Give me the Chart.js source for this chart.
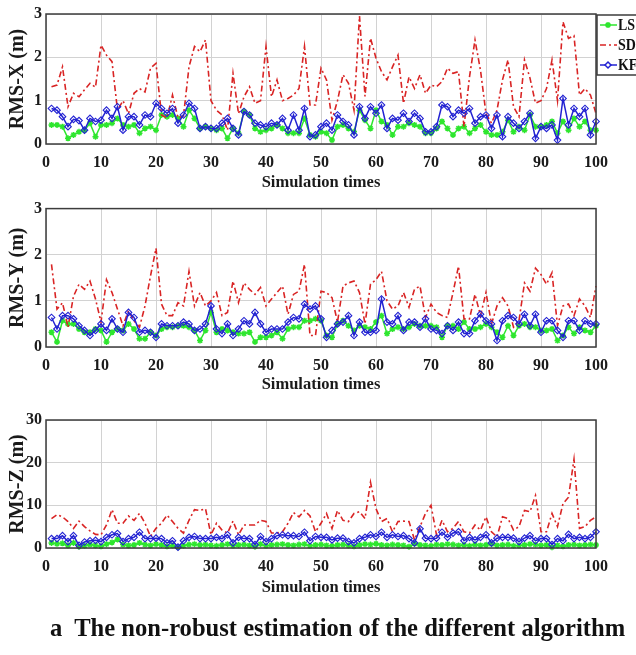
<!DOCTYPE html>
<html>
<head>
<meta charset="utf-8">
<script src="https://cdn.jsdelivr.net/npm/chart.js@4.4.0/dist/chart.umd.min.js"></script>
<style>
  body { margin: 0; background: #fff; width: 636px; height: 655px; position: relative; overflow: hidden; }
  .panel { position: absolute; left: 0; width: 636px; height: 200px; }
  #caption { position: absolute; left: 50px; top: 614px; font: bold 24.6px "Liberation Serif", "DejaVu Serif", serif; color: #111; white-space: pre; }
</style>
</head>
<body>
<div class="panel" style="top:0px"><canvas id="chartX" width="636" height="200"></canvas></div>
<div class="panel" style="top:195px"><canvas id="chartY" width="636" height="200"></canvas></div>
<div class="panel" style="top:405px"><canvas id="chartZ" width="636" height="200"></canvas></div>
<div id="caption">a  The non-robust estimation of the different algorithm</div>
<script>
// RMS error of each run (m), runs 1..100
const xLS = [0.44,0.44,0.40,0.13,0.21,0.28,0.32,0.48,0.17,0.44,
  0.44,0.48,0.59,0.44,0.40,0.44,0.25,0.36,0.40,0.32,
  0.67,0.63,0.67,0.59,0.40,0.78,0.59,0.36,0.40,0.36,
  0.32,0.36,0.13,0.36,0.25,0.75,0.67,0.36,0.28,0.32,
  0.36,0.44,0.36,0.25,0.25,0.25,0.59,0.21,0.17,0.28,
  0.25,0.09,0.40,0.44,0.36,0.28,0.78,0.55,0.36,0.78,
  0.52,0.44,0.21,0.40,0.40,0.48,0.44,0.40,0.25,0.25,
  0.36,0.52,0.36,0.21,0.36,0.40,0.25,0.36,0.44,0.28,
  0.21,0.21,0.28,0.55,0.28,0.40,0.32,0.67,0.40,0.40,
  0.44,0.52,0.25,0.52,0.32,0.59,0.40,0.52,0.32,0.32];
const xSD = [1.32,1.36,1.78,0.86,1.17,1.09,1.25,1.40,1.31,2.28,
  2.05,1.90,0.78,1.00,0.70,1.17,1.28,1.20,1.75,1.86,
  0.67,0.60,1.13,0.60,0.65,1.78,2.25,2.13,2.40,1.00,
  0.78,0.67,0.32,1.63,0.70,1.09,1.32,0.94,1.00,2.25,
  1.09,1.48,1.00,1.05,1.13,1.28,2.25,0.90,0.90,1.75,
  1.48,0.55,1.00,1.60,1.40,0.78,2.95,1.10,2.44,1.98,
  1.67,1.48,1.78,2.05,0.94,1.55,1.28,1.60,1.17,1.36,
  1.32,1.44,1.75,1.63,1.67,0.40,1.55,2.40,1.70,0.70,
  0.48,0.78,1.48,1.94,0.86,0.63,1.94,1.52,0.94,1.00,
  1.28,1.94,1.00,2.82,2.44,2.50,1.13,1.28,1.13,0.70];
const xKF = [0.82,0.78,0.63,0.40,0.57,0.54,0.32,0.59,0.52,0.55,
  0.78,0.59,0.86,0.32,0.63,0.63,0.44,0.67,0.63,0.94,
  0.82,0.71,0.82,0.48,0.67,0.94,0.82,0.36,0.40,0.36,
  0.36,0.48,0.59,0.36,0.21,0.75,0.67,0.48,0.44,0.40,
  0.48,0.44,0.59,0.32,0.67,0.32,0.82,0.17,0.21,0.40,
  0.48,0.32,0.67,0.52,0.44,0.21,0.86,0.59,0.86,0.71,
  0.90,0.36,0.59,0.55,0.71,0.52,0.71,0.59,0.28,0.28,
  0.40,0.90,0.86,0.63,0.78,0.71,0.82,0.48,0.63,0.67,
  0.36,0.67,0.17,0.63,0.48,0.36,0.52,0.71,0.13,0.40,
  0.36,0.44,0.09,1.05,0.44,0.82,0.63,0.82,0.21,0.52];

const yLS = [0.32,0.11,0.57,0.50,0.50,0.39,0.32,0.32,0.39,0.36,
  0.11,0.32,0.39,0.36,0.50,0.39,0.18,0.18,0.32,0.25,
  0.39,0.43,0.43,0.46,0.46,0.43,0.36,0.14,0.36,0.75,
  0.32,0.39,0.36,0.32,0.29,0.29,0.32,0.11,0.21,0.21,
  0.25,0.32,0.18,0.39,0.43,0.43,0.57,0.57,0.61,0.57,
  0.25,0.21,0.50,0.57,0.46,0.36,0.46,0.43,0.39,0.54,
  0.68,0.29,0.39,0.43,0.39,0.43,0.50,0.46,0.46,0.46,
  0.43,0.21,0.46,0.46,0.39,0.54,0.39,0.39,0.43,0.50,
  0.43,0.32,0.21,0.46,0.25,0.46,0.50,0.43,0.43,0.36,
  0.36,0.39,0.14,0.25,0.43,0.29,0.43,0.36,0.32,0.46];
const ySD = [1.79,0.82,0.96,0.43,1.10,1.36,1.25,1.43,1.04,0.54,
  1.46,1.18,0.82,0.46,0.79,0.57,0.43,0.89,1.54,2.14,
  0.93,0.68,0.68,0.96,0.89,1.64,0.89,1.18,0.89,1.00,
  1.18,0.68,0.75,1.43,0.96,1.39,1.25,1.14,1.29,0.89,
  1.04,1.18,1.32,0.71,1.14,1.21,1.79,0.25,0.25,1.21,
  1.18,1.07,0.54,1.32,1.39,1.43,1.18,0.50,1.36,1.46,
  1.64,1.00,0.82,0.89,1.18,0.86,1.25,1.32,0.64,0.93,
  0.75,0.68,0.64,1.18,1.75,0.61,0.61,1.14,0.68,1.18,
  0.50,0.89,1.07,0.89,0.43,0.57,1.39,1.21,1.71,1.57,
  1.36,1.61,0.46,0.89,0.93,0.68,1.04,0.89,0.64,1.32];
const yKF = [0.64,0.39,0.68,0.68,0.61,0.46,0.36,0.25,0.36,0.50,
  0.36,0.61,0.39,0.32,0.75,0.64,0.32,0.36,0.32,0.21,
  0.50,0.46,0.46,0.46,0.54,0.50,0.36,0.39,0.50,0.89,
  0.39,0.29,0.50,0.25,0.39,0.57,0.50,0.75,0.50,0.32,
  0.39,0.39,0.39,0.54,0.64,0.61,0.93,0.82,0.89,0.61,
  0.21,0.36,0.50,0.54,0.68,0.25,0.54,0.32,0.32,0.36,
  1.04,0.54,0.50,0.68,0.36,0.54,0.54,0.43,0.61,0.39,
  0.36,0.29,0.46,0.36,0.54,0.29,0.29,0.57,0.71,0.57,
  0.50,0.14,0.57,0.68,0.64,0.50,0.71,0.46,0.71,0.32,
  0.57,0.57,0.36,0.21,0.57,0.57,0.36,0.57,0.50,0.50];

const zLS = [1.2,1.0,1.1,0.6,1.2,0.3,0.5,0.8,0.6,0.4,
  0.9,1.3,2.0,0.8,0.6,0.7,1.2,0.8,0.6,0.9,
  0.7,0.4,0.6,0.2,0.5,0.8,0.9,0.7,0.8,0.6,
  0.5,0.7,0.9,0.5,0.7,0.8,0.6,0.3,0.9,0.5,
  0.7,0.8,0.9,0.7,0.6,0.8,0.9,0.5,0.7,0.8,
  0.6,0.5,0.7,0.8,0.6,0.4,0.7,0.9,0.8,1.0,
  0.7,0.6,0.8,0.7,0.6,0.3,1.0,0.7,0.6,0.5,
  0.8,0.7,0.9,0.8,0.6,0.7,0.5,0.8,0.6,0.7,
  0.9,0.6,0.7,0.8,0.5,0.6,0.7,0.9,0.8,0.6,
  0.7,0.2,0.6,0.4,0.7,0.8,0.6,0.7,0.8,0.7];
const zSD = [6.9,7.8,7.3,6.2,4.6,6.3,5.0,4.0,3.2,3.1,
  5.4,9.0,5.8,5.8,7.5,6.5,8.1,5.8,2.7,4.6,
  5.8,7.7,6.2,4.6,3.5,6.5,9.0,8.8,9.2,3.1,
  5.8,4.2,3.5,6.3,3.1,5.4,5.4,5.4,6.5,6.2,
  3.5,3.5,3.8,5.8,8.3,7.3,8.8,7.5,3.8,5.8,
  8.1,4.6,8.8,6.5,6.2,8.1,8.5,6.9,15.4,9.2,
  6.2,6.9,3.8,6.2,6.3,6.2,1.9,5.0,8.1,10.0,
  3.1,6.5,3.8,4.6,6.2,3.8,3.5,5.4,4.2,7.3,
  3.8,2.6,7.3,6.9,4.2,5.0,8.8,8.5,12.3,3.8,
  3.8,8.1,5.0,10.4,11.9,20.8,4.6,5.0,6.5,7.3];
const zKF = [2.2,2.2,2.9,1.5,2.9,0.6,1.4,1.7,1.8,1.5,
  2.5,3.1,3.4,1.5,2.2,2.5,3.7,2.2,2.2,2.3,
  2.2,1.2,1.7,0.2,1.7,2.5,2.7,2.2,2.2,2.2,
  2.5,2.2,3.1,1.2,2.5,2.2,2.2,0.8,2.7,1.5,
  2.2,2.9,3.1,2.9,2.9,2.7,3.7,1.7,2.7,2.5,
  2.5,1.9,2.3,2.3,1.5,1.2,2.2,2.5,3.1,2.7,
  3.7,2.5,3.1,2.7,2.9,2.2,1.2,4.5,2.3,2.2,
  2.3,3.7,2.5,3.5,3.8,1.7,2.5,1.9,2.5,3.1,
  1.2,2.3,2.5,2.5,2.3,1.5,2.3,2.9,1.7,2.2,
  2.2,0.8,2.2,1.7,3.2,2.2,2.5,2.2,2.5,3.8];

const seriesNames = ['LS', 'SD', 'KF'];
const xTicks = [0, 10, 20, 30, 40, 50, 60, 70, 80, 90, 100];

const FONT = '"Liberation Serif", "DejaVu Serif", serif';
const GREEN = '#2ee62e';
const RED = '#d92424';
const BLUE = '#2222d2';
const SD_DASH = [6, 3, 2, 3];

function toPoints(vals) {
    return vals.map((v, i) => ({ x: i + 1, y: v }));
}

// box round the plot area + MATLAB style legend
const framePlugin = {
    id: 'frame',
    afterDraw(chart, args, opts) {
        const ctx = chart.ctx;
        const a = chart.chartArea;
        ctx.save();
        ctx.strokeStyle = '#3c3c3c';
        ctx.lineWidth = 1.5;
        ctx.strokeRect(a.left, a.top, a.right - a.left, a.bottom - a.top);

        if (opts.legend) {
            ctx.fillStyle = '#fff';
            ctx.fillRect(597, 15, 50, 60);
            ctx.strokeRect(597, 15, 50, 60);
            const colors = [GREEN, RED, BLUE];
            const styles = ['star', false, 'rectRot'];
            seriesNames.forEach((name, i) => {
                const y = 25 + i * 20;
                ctx.strokeStyle = colors[i];
                ctx.lineWidth = 1.5;
                ctx.setLineDash(i === 1 ? SD_DASH : []);
                ctx.beginPath();
                ctx.moveTo(600, y);
                ctx.lineTo(617, y);
                ctx.stroke();
                ctx.setLineDash([]);
                if (styles[i]) {
                    ctx.fillStyle = i === 0 ? GREEN : '#fff';
                    Chart.helpers.drawPoint(ctx, { pointStyle: styles[i], radius: 3, borderWidth: 1.2, rotation: 0 }, 608, y);
                }
                // narrow lettering like the original legend
                ctx.save();
                ctx.translate(618, y + 1);
                ctx.scale(0.82, 1);
                ctx.fillStyle = '#111';
                ctx.font = 'bold 17px ' + FONT;
                ctx.textBaseline = 'middle';
                ctx.textAlign = 'left';
                ctx.fillText(name, 0, 0);
                ctx.restore();
            });
        }
        ctx.restore();
    }
};

function makeChart(id, yTitle, yMax, yStep, ls, sd, kf, box) {
    const ctx = document.getElementById(id).getContext('2d');
    return new Chart(ctx, {
        type: 'line',
        data: {
            datasets: [{
                label: seriesNames[0],
                data: toPoints(ls),
                borderColor: GREEN,
                backgroundColor: GREEN,
                borderWidth: 1.5,
                pointStyle: 'star',
                pointRadius: 3,
                pointBorderWidth: 1.5,
                order: 3
            }, {
                label: seriesNames[1],
                data: toPoints(sd),
                borderColor: RED,
                borderWidth: 1.6,
                borderDash: SD_DASH,
                pointRadius: 0,
                order: 2
            }, {
                label: seriesNames[2],
                data: toPoints(kf),
                borderColor: BLUE,
                backgroundColor: 'rgba(255,255,255,0)',
                borderWidth: 1.5,
                pointStyle: 'rectRot',
                pointRadius: 3.3,
                pointBorderWidth: 1.1,
                order: 1
            }]
        },
        options: {
            responsive: false,
            animation: false,
            devicePixelRatio: 1,
            clip: false,
            layout: { padding: { top: box.top, right: 40, bottom: 0, left: 0 } },
            plugins: {
                legend: { display: false },
                tooltip: { enabled: false },
                frame: { legend: box.legend }
            },
            scales: {
                x: {
                    type: 'linear',
                    min: 0,
                    max: 100,
                    afterBuildTicks: scale => { scale.ticks = xTicks.map(v => ({ value: v })); },
                    ticks: { padding: 9, maxRotation: 0, color: '#1a1a1a', font: { family: FONT, size: 16, weight: 'bold' } },
                    grid: { color: '#d2d2d2', drawTicks: false },
                    border: { display: false },
                    title: {
                        display: true,
                        text: 'Simulation times',
                        color: '#1a1a1a',
                        font: { family: FONT, size: 16.5, weight: 'bold' },
                        padding: { top: 0, bottom: box.titlePad }
                    },
                    afterFit: scale => { scale.height = box.xHeight; }
                },
                y: {
                    min: 0,
                    max: yMax,
                    ticks: { stepSize: yStep, padding: 4, color: '#1a1a1a', font: { family: FONT, size: 16, weight: 'bold' } },
                    grid: { color: '#d2d2d2', drawTicks: false },
                    border: { display: false },
                    title: {
                        display: true,
                        text: yTitle,
                        color: '#1a1a1a',
                        font: { family: FONT, size: 20, weight: 'bold' },
                        padding: { top: 6, bottom: 0 }
                    },
                    afterFit: scale => { scale.width = 46; }
                }
            }
        },
        plugins: [framePlugin]
    });
}

makeChart('chartX', 'RMS-X (m)', 3, 1, xLS, xSD, xKF, { top: 14, xHeight: 56, titlePad: 7, legend: true });
makeChart('chartY', 'RMS-Y (m)', 3, 1, yLS, ySD, yKF, { top: 13, xHeight: 48, titlePad: 0, legend: false });
makeChart('chartZ', 'RMS-Z (m)', 30, 10, zLS, zSD, zKF, { top: 15, xHeight: 57, titlePad: 7, legend: false });
</script>
</body>
</html>
